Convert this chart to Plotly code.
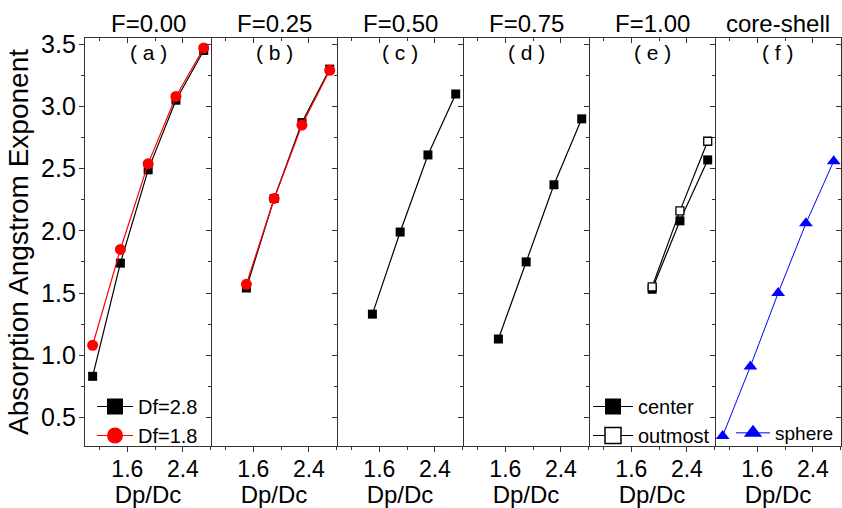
import plotly.graph_objects as go

# ---------------- data ----------------
x_five = [1.1, 1.5, 1.9, 2.3, 2.7]
x_four = [1.5, 1.9, 2.3, 2.7]
x_three = [1.9, 2.3, 2.7]

a_df28 = [0.83, 1.74, 2.49, 3.05, 3.45]
a_df18 = [1.08, 1.85, 2.54, 3.08, 3.47]
b_df28 = [1.54, 2.26, 2.87, 3.30]
b_df18 = [1.57, 2.26, 2.85, 3.29]
c_df28 = [1.33, 1.99, 2.61, 3.10]
d_df28 = [1.13, 1.75, 2.37, 2.90]
e_center = [1.53, 2.08, 2.57]
e_outmost = [1.55, 2.16, 2.72]
f_sphere = [0.35, 0.91, 1.50, 2.06, 2.56]

panel_titles = ["F=0.00", "F=0.25", "F=0.50", "F=0.75", "F=1.00", "core-shell"]
panel_labels = ["( a )", "( b )", "( c )", "( d )", "( e )", "( f )"]
x_ticks = [0.8, 1.6, 2.4]
x_tick_text = ["0.8", "1.6", "2.4"]
y_ticks = [0.5, 1.0, 1.5, 2.0, 2.5, 3.0, 3.5]
y_tick_text = ["0.5", "1.0", "1.5", "2.0", "2.5", "3.0", "3.5"]
x_title = "Dp/Dc"
y_title = "Absorption Angstrom Exponent"

# ---------------- layout geometry ----------------
W, H = 842, 508
ML, MR, MT, MB = 85, 1, 38, 62
PW, PH = W - ML - MR, H - MT - MB
NP = 6
XR = [0.99, 2.805]
YR = [0.27, 3.55]
FONT = "Liberation Sans, Arial, sans-serif"
FRAME = "#333333"


def px_x(px):
    return (px - ML) / PW


def px_y(py):
    return (H - MB - py) / PH


fig = go.Figure()


def sfx(i):
    return "" if i == 0 else str(i + 1)


def add_line(i, xs, ys, color, symbol, size, fill=None, lw=1.2, lwm=0):
    fig.add_trace(go.Scatter(
        x=xs, y=ys, mode="lines+markers",
        xaxis="x" + sfx(i), yaxis="y" + sfx(i),
        line=dict(color=color, width=lw),
        marker=dict(color=fill if fill else color, symbol=symbol, size=size,
                    line=dict(color=color, width=lwm)),
        showlegend=False, hoverinfo="skip"))


def add_legend_item(name, color, symbol, fill, legend, lw=1.2, lwm=0):
    fig.add_trace(go.Scatter(
        x=[None], y=[None], mode="lines+markers", name=name,
        line=dict(color=color, width=lw),
        marker=dict(color=fill if fill else color, symbol=symbol, size=20,
                    line=dict(color=color, width=lwm)),
        legend=legend, showlegend=True, hoverinfo="skip"))


# panel a
add_line(0, x_five, a_df28, "black", "square", 9)
add_line(0, x_five, a_df18, "red", "circle", 11)
# panel b
add_line(1, x_four, b_df28, "black", "square", 9)
add_line(1, x_four, b_df18, "red", "circle", 11)
# panel c, d
add_line(2, x_four, c_df28, "black", "square", 9)
add_line(3, x_four, d_df28, "black", "square", 9)
# panel e
add_line(4, x_three, e_center, "black", "square", 9)
add_line(4, x_three, e_outmost, "black", "square", 8, fill="white", lwm=1.3)
# panel f
add_line(5, x_five, f_sphere, "blue", "triangle-up", 12, lw=1)

# legend entries
add_legend_item("Df=2.8", "black", "square", None, "legend")
add_legend_item("Df=1.8", "red", "circle", None, "legend")
add_legend_item("center", "black", "square", None, "legend2")
add_legend_item("outmost", "black", "square", "white", "legend2", lwm=1.5)
add_legend_item("sphere", "blue", "triangle-up", None, "legend3", lw=1)

layout = dict(
    width=W, height=H,
    margin=dict(l=ML, r=MR, t=MT, b=MB, pad=0, autoexpand=False),
    paper_bgcolor="white", plot_bgcolor="white",
    font=dict(family=FONT, color="black"),
    showlegend=True,
)

for i in range(NP):
    d0, d1 = i / NP, (i + 1) / NP
    s = sfx(i)
    xa = dict(domain=[d0, d1], range=XR, anchor="y" + s, automargin=False,
              showgrid=False, zeroline=False,
              showline=True, linecolor=FRAME, linewidth=1.4,
              tickmode="array", tickvals=x_ticks, ticktext=x_tick_text,
              ticks="outside", ticklen=5, tickwidth=1.2, tickcolor=FRAME,
              minor=dict(ticks="outside", ticklen=3, dtick=0.4, tick0=0.0,
                         tickcolor=FRAME, tickwidth=1),
              tickfont=dict(size=23, family=FONT, color="black"),
              ticklabelstandoff=-3,
              title=dict(text=x_title, font=dict(size=24, family=FONT, color="black"),
                         standoff=6))
    ya = dict(domain=[0, 1], range=YR, anchor="x" + s, automargin=False,
              showgrid=False, zeroline=False,
              tickmode="array", tickvals=y_ticks, ticktext=y_tick_text,
              tickfont=dict(size=25, family=FONT, color="black"))
    if i == 0:
        ya.update(showline=True, linecolor=FRAME, linewidth=1.4,
                  ticks="outside", ticklen=5, tickwidth=1.2, tickcolor=FRAME,
                  minor=dict(ticks="outside", ticklen=3, dtick=0.25, tick0=0.0,
                             tickcolor=FRAME, tickwidth=1),
                  showticklabels=True, ticklabelstandoff=-2,
                  title=dict(text=y_title, font=dict(size=28, family=FONT, color="black"),
                             standoff=4))
    else:
        ya.update(showline=False, ticks="", showticklabels=False)
    layout["xaxis" + s] = xa
    layout["yaxis" + s] = ya

    # overlay axes for inward top / right ticks
    tx = str(i + 7)
    ty = str(i + 7)
    layout["xaxis" + tx] = dict(
        overlaying="x" + s, anchor="y" + s, side="top", range=XR, automargin=False,
        showgrid=False, zeroline=False, showline=True, linecolor=FRAME, linewidth=1.4,
        tickmode="array", tickvals=x_ticks, showticklabels=False,
        ticks="inside", ticklen=5, tickwidth=1.2, tickcolor=FRAME,
        minor=dict(ticks="inside", ticklen=3, dtick=0.4, tick0=0.0,
                   tickcolor=FRAME, tickwidth=1))
    layout["yaxis" + ty] = dict(
        overlaying="y" + s, anchor="x" + s, side="right", range=YR, automargin=False,
        showgrid=False, zeroline=False, showline=True, linecolor=FRAME, linewidth=1.4,
        tickmode="array", tickvals=y_ticks, showticklabels=False,
        ticks="inside", ticklen=5, tickwidth=1.2, tickcolor=FRAME,
        minor=dict(ticks="inside", ticklen=3, dtick=0.25, tick0=0.0,
                   tickcolor=FRAME, tickwidth=1))
    fig.add_trace(go.Scatter(x=[None], y=[None], xaxis="x" + tx, yaxis="y" + s,
                             showlegend=False, hoverinfo="skip", mode="markers"))
    fig.add_trace(go.Scatter(x=[None], y=[None], xaxis="x" + s, yaxis="y" + ty,
                             showlegend=False, hoverinfo="skip", mode="markers"))

annotations = []
for i in range(NP):
    cx = (i + 0.5) / NP
    annotations.append(dict(text=panel_titles[i], xref="paper", yref="paper",
                            x=cx, y=px_y(24), xanchor="center", yanchor="middle",
                            showarrow=False, font=dict(size=24, family=FONT, color="black")))
    annotations.append(dict(text=panel_labels[i], xref="paper", yref="paper",
                            x=cx, y=px_y(52), xanchor="center", yanchor="middle",
                            showarrow=False, font=dict(size=21, family=FONT, color="black")))
layout["annotations"] = annotations

leg_common = dict(bgcolor="rgba(0,0,0,0)", borderwidth=0, itemsizing="trace",
                  font=dict(size=20, family=FONT, color="black"),
                  xanchor="left", yanchor="bottom", tracegroupgap=0)
layout["legend"] = dict(leg_common, x=px_x(92), y=px_y(455), itemwidth=36)
layout["legend2"] = dict(leg_common, x=px_x(588), y=px_y(455), itemwidth=40)
layout["legend3"] = dict(leg_common, x=px_x(731), y=px_y(452), itemwidth=34,
                         font=dict(size=19, family=FONT, color="black"))

fig.update_layout(**layout)
fig.write_html("out.html")
